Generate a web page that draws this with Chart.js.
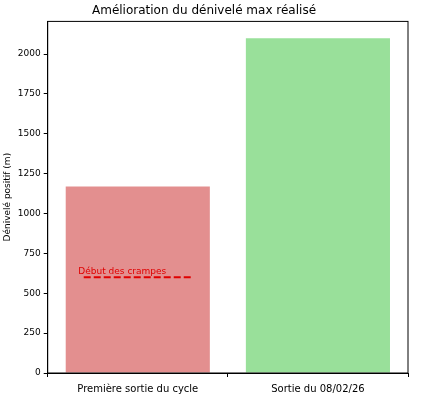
<!DOCTYPE html><html><head><script src="https://cdn.jsdelivr.net/npm/chart.js@4"></script>
<style>body{margin:0;background:#fff}#w{width:422px;height:419px}</style></head><body><div id="w"><canvas id="c"></canvas></div>
<script>
const categories=["Première sortie du cycle","Sortie du 08/02/26"];
const values=[1170,2100];
const crampValue=600;
const crampLabel="Début des crampes";
const yTicks=[0,250,500,750,1000,1250,1500,1750,2000];
const plug={id:'cr',afterDatasetsDraw(ch){const x=ch.scales.x,y=ch.scales.y,c=ch.ctx;
const u=x.getPixelForValue(1)-x.getPixelForValue(0);const cx=x.getPixelForValue(0),py=y.getPixelForValue(crampValue);
c.save();c.strokeStyle='#e00000';c.lineWidth=2;c.setLineDash([7,3]);c.beginPath();c.moveTo(cx-0.3*u,py);c.lineTo(cx+0.3*u,py);c.stroke();
c.fillStyle='#e00000';c.font='9px "DejaVu Sans"';c.textBaseline='bottom';c.fillText(crampLabel,cx-0.33*u,py-1);c.restore();},
afterDraw(ch){const a=ch.chartArea,c=ch.ctx;c.save();c.strokeStyle='#000';c.lineWidth=1;c.strokeRect(a.left,a.top,a.right-a.left,a.bottom-a.top);c.restore();}};
new Chart(document.getElementById('c'),{type:'bar',data:{labels:categories,datasets:[{data:values,backgroundColor:['#e38f8f','#99e09a'],categoryPercentage:1,barPercentage:0.8}]},
options:{responsive:true,maintainAspectRatio:false,animation:false,layout:{padding:{top:0,right:14,left:0,bottom:18}},
plugins:{legend:{display:false},tooltip:{enabled:false},title:{display:true,text:'Amélioration du dénivelé max réalisé',color:'#000',font:{family:'DejaVu Sans',size:12,weight:'normal'},padding:{top:4,bottom:3}}},
scales:{x:{grid:{display:true,drawOnChartArea:false,tickLength:4,color:'#000'},border:{color:'#000'},ticks:{color:'#000',font:{family:'DejaVu Sans',size:10},padding:6}},
y:{min:0,max:2205,afterBuildTicks(s){s.ticks=yTicks.map(v=>({value:v}));},grid:{display:true,drawOnChartArea:false,tickLength:4,color:'#000'},border:{color:'#000'},
ticks:{color:'#000',font:{family:'DejaVu Sans',size:9},padding:3,callback:v=>String(v)},title:{display:true,text:'Dénivelé positif (m)',color:'#000',font:{family:'DejaVu Sans',size:9},padding:2}}}},plugins:[plug]});
</script></body></html>
